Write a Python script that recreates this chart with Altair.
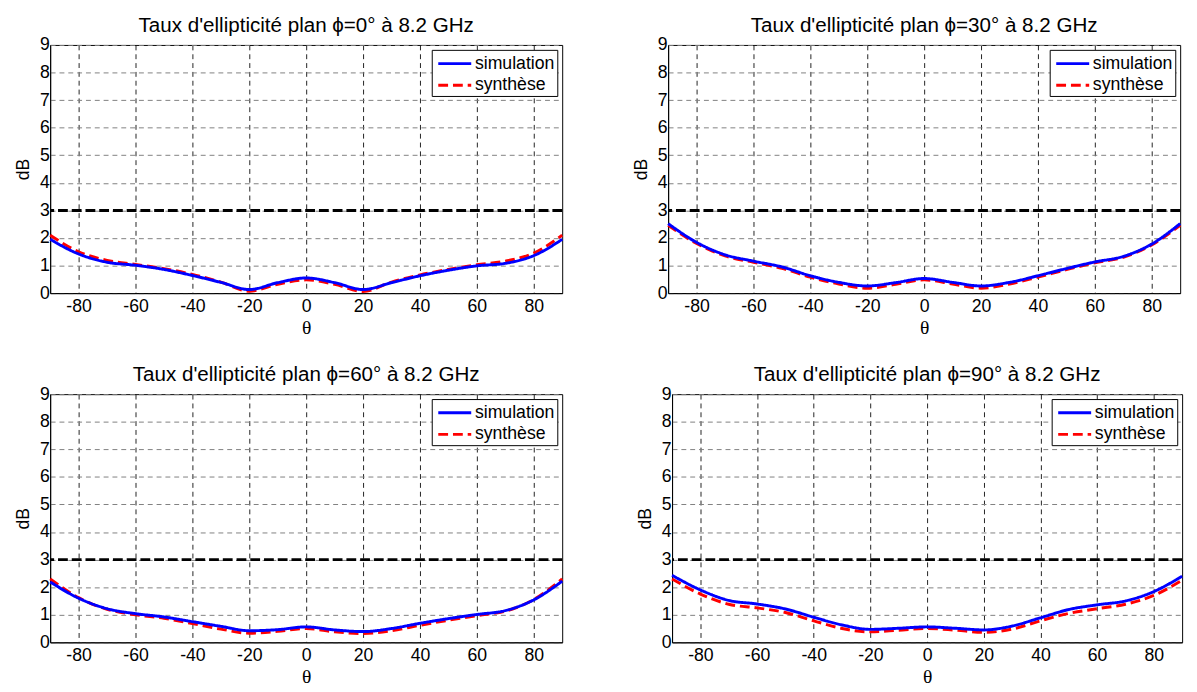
import altair as alt
import pandas as pd

theta = [-90, -80, -70, -60, -50, -40, -30, -20, -10, 0, 10, 20, 30, 40, 50, 60, 70, 80, 90]

sim_phi0 = [1.95, 1.42, 1.12, 1.01, 0.86, 0.64, 0.39, 0.13, 0.38, 0.55, 0.38, 0.13, 0.38, 0.63, 0.83, 0.99, 1.08, 1.36, 1.95]
syn_phi0 = [2.10, 1.50, 1.19, 1.04, 0.89, 0.68, 0.40, 0.07, 0.32, 0.48, 0.32, 0.06, 0.40, 0.66, 0.86, 1.03, 1.16, 1.45, 2.10]

sim_phi30 = [2.52, 1.84, 1.39, 1.16, 0.95, 0.63, 0.39, 0.26, 0.38, 0.53, 0.39, 0.26, 0.39, 0.63, 0.89, 1.13, 1.33, 1.78, 2.52]
syn_phi30 = [2.46, 1.80, 1.35, 1.12, 0.90, 0.58, 0.33, 0.18, 0.32, 0.48, 0.33, 0.18, 0.33, 0.58, 0.85, 1.10, 1.30, 1.75, 2.46]

sim_phi60 = [2.19, 1.60, 1.22, 1.04, 0.92, 0.75, 0.58, 0.42, 0.46, 0.56, 0.45, 0.39, 0.50, 0.69, 0.86, 1.01, 1.15, 1.54, 2.22]
syn_phi60 = [2.30, 1.62, 1.20, 1.00, 0.87, 0.68, 0.48, 0.33, 0.40, 0.50, 0.38, 0.32, 0.42, 0.62, 0.80, 0.97, 1.13, 1.55, 2.30]

sim_phi90 = [2.43, 1.90, 1.52, 1.39, 1.21, 0.91, 0.63, 0.47, 0.51, 0.56, 0.51, 0.45, 0.59, 0.89, 1.19, 1.36, 1.50, 1.84, 2.40]
syn_phi90 = [2.30, 1.75, 1.38, 1.25, 1.08, 0.78, 0.50, 0.38, 0.44, 0.50, 0.44, 0.36, 0.48, 0.78, 1.05, 1.22, 1.38, 1.70, 2.25]

phis = ["0", "30", "60", "90"]
series = ["simulation", "synthèse"]
x_ticks = [-80, -60, -40, -20, 0, 20, 40, 60, 80]
y_ticks = [0, 1, 2, 3, 4, 5, 6, 7, 8, 9]
threshold = [3]

H = 253


def panel(sim, syn, phi, width):
    n = len(theta)
    df = pd.DataFrame({
        "theta": theta + theta,
        "val": sim + syn,
        "serie": [series[0]] * n + [series[1]] * n,
    })
    x = alt.X("theta:Q", scale=alt.Scale(domain=[-90, 90], nice=False, zero=False),
              axis=alt.Axis(values=x_ticks, title="θ", labelPadding=5, titlePadding=2,
                            labelExpr="datum.value < 0 ? '-' + (-datum.value) : '' + datum.value"))
    y = alt.Y("val:Q", scale=alt.Scale(domain=[0, 9], nice=False, zero=False),
              axis=alt.Axis(values=y_ticks, title="dB", labelPadding=1, titlePadding=7))
    leg = alt.Legend(orient="top-right", offset=5, strokeColor="black", fillColor="white",
                     padding=2, cornerRadius=0, labelFont="Liberation Sans", labelFontSize=18,
                     labelColor="black", symbolType="M-0.7,0H2.5", symbolSize=441,
                     symbolStrokeWidth=3, labelOffset=18, rowPadding=1)
    color = alt.Color("serie:N", title=None,
                      scale=alt.Scale(domain=series, range=["#0000ff", "#ff0000"]), legend=leg)
    dash = alt.StrokeDash("serie:N", title=None,
                          scale=alt.Scale(domain=series, range=[[1, 0], [10, 5]]), legend=leg)
    base = alt.Chart(df)
    thr = alt.Chart(pd.DataFrame({"val": threshold})).mark_rule(
        color="black", strokeWidth=3, strokeDash=[10, 4]
    ).encode(y=y)
    syn_layer = base.transform_filter(alt.datum.serie == series[1]).mark_line(
        strokeWidth=3, interpolate="monotone").encode(x=x, y=y, color=color, strokeDash=dash)
    sim_layer = base.transform_filter(alt.datum.serie == series[0]).mark_line(
        strokeWidth=3, interpolate="monotone").encode(x=x, y=y, color=color, strokeDash=dash)
    return alt.layer(thr, syn_layer, sim_layer).properties(
        width=width, height=H,
        title=alt.TitleParams(f"Taux d'ellipticité plan ϕ={phi}° à 8.2 GHz", fontSize=21,
                              font="Liberation Sans", fontWeight="normal", color="black", offset=0),
    )


p1 = panel(sim_phi0, syn_phi0, phis[0], 522)
p2 = panel(sim_phi30, syn_phi30, phis[1], 522)
p3 = panel(sim_phi60, syn_phi60, phis[2], 522)
p4 = panel(sim_phi90, syn_phi90, phis[3], 520)

row1 = alt.hconcat(p1, p2, spacing=64).resolve_legend(color="independent", strokeDash="independent")
row2 = alt.hconcat(p3, p4, spacing=68).resolve_legend(color="independent", strokeDash="independent")

chart = alt.vconcat(row1, row2, spacing=26).resolve_legend(
    color="independent", strokeDash="independent"
).properties(
    padding={"left": 6, "top": 0, "right": 0, "bottom": 0}
).configure(font="Liberation Sans").configure_view(
    stroke="black", strokeWidth=1
).configure_axis(
    domainColor="black", domainWidth=1, ticks=False, labelFont="Liberation Sans", labelFontSize=18,
    labelColor="black", gridDash=[5, 4], gridWidth=1, gridOpacity=1,
    titleFont="Liberation Sans", titleFontSize=18, titleFontWeight="normal", titleColor="black",
).configure_axisX(
    gridColor="#222222", titleFont="Liberation Serif", titleFontSize=20
).configure_axisY(
    gridColor="#808080"
)

chart.save("out.html", embed_options={"renderer": "svg", "actions": False})
